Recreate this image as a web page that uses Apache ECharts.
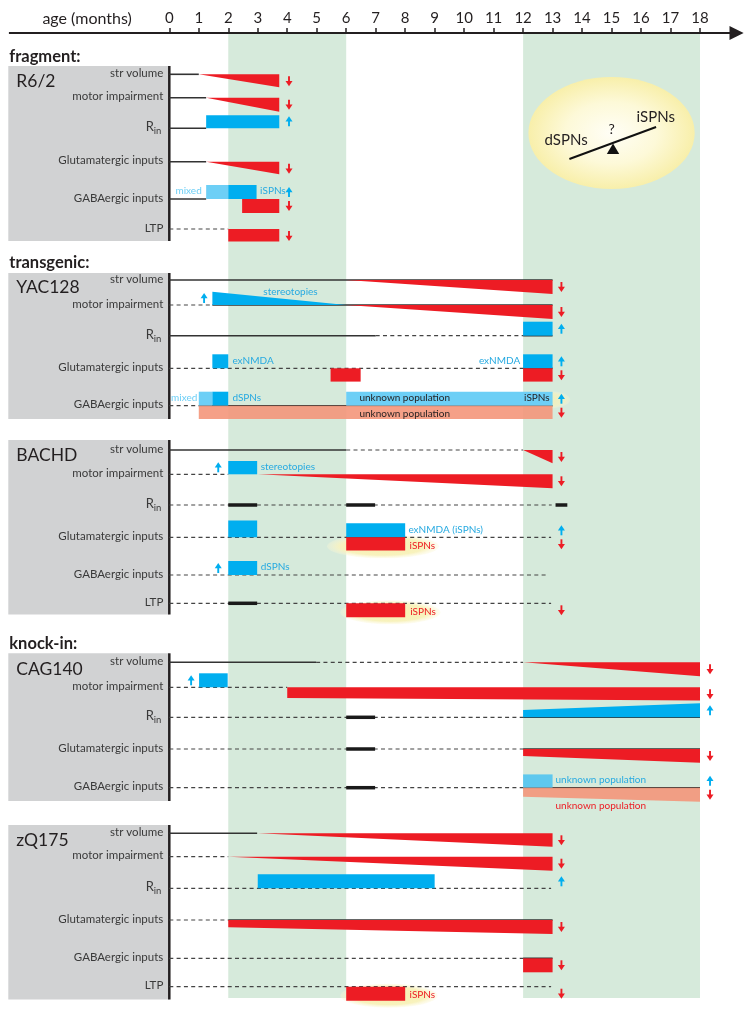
<!DOCTYPE html>
<html><head><meta charset="utf-8">
<script src="https://cdn.jsdelivr.net/npm/echarts@6/dist/echarts.min.js"></script>
<style>html,body{margin:0;padding:0;background:#fff}#c{width:753px;height:1018px}</style>
</head><body><div id="c"></div>
<script>
// ---------------- DATA ----------------
const MONTH_TICKS = ['0','1','2','3','4','5','6','7','8','9','10','11','12','13','14','15','16','17','18'];
const AXIS_TITLE = 'age (months)';
const HEALTHY_WINDOWS = [[2, 6], [12, 18]];
const MODEL_NAMES = ['R6/2', 'YAC128', 'BACHD', 'CAG140', 'zQ175'];
const MODEL_GROUPS = ['fragment:', 'transgenic:', null, 'knock-in:', null];
const ROW_TEXT = {str:'str volume', motor:'motor impairment', rin:'R_in', glut:'Glutamatergic inputs', gaba:'GABAergic inputs', ltp:'LTP'};
const MODEL_ROWS = [
  ['str','motor','rin','glut','gaba','ltp'],
  ['str','motor','rin','glut','gaba'],
  ['str','motor','rin','glut','gaba','ltp'],
  ['str','motor','rin','glut','gaba'],
  ['str','motor','rin','glut','gaba','ltp']
];
// [model, row, style, fromMonth, toMonth]
const BASELINES = [
  ['R6/2','str','solid',0,1.0],['R6/2','motor','solid',0,1.25],['R6/2','rin','solid',0,1.25],
  ['R6/2','glut','solid',0,1.25],['R6/2','gaba','solid',0,1.25],['R6/2','ltp','dash',0,2],
  ['YAC128','str','solid',0,13],['YAC128','motor','dash',0,1.46],['YAC128','motor','solid',1.46,13],
  ['YAC128','rin','solid',0,7],['YAC128','rin','dash',7,12],['YAC128','rin','solid',12,13],
  ['YAC128','glut','dash',0,12],['YAC128','glut','solid',12,13],
  ['YAC128','gaba','dash',0,1],['YAC128','gaba','solid',1,13],
  ['BACHD','str','solid',0,6],['BACHD','str','dash',6,12],['BACHD','motor','dash',0,2],
  ['BACHD','rin','dash',0,12.97],['BACHD','rin','thick',2,2.98],['BACHD','rin','thick',6,6.98],['BACHD','rin','thick',13.1,13.5],
  ['BACHD','glut','dash',0,12.95],['BACHD','glut','solid',6,8],['BACHD','gaba','dash',0,12.85],
  ['BACHD','ltp','dash',0,12.95],['BACHD','ltp','thick',2,2.98],
  ['CAG140','str','solid',0,4.98],['CAG140','str','dash',4.98,12],['CAG140','motor','dash',0,4],
  ['CAG140','rin','dash',0,12],['CAG140','rin','thick',6,6.98],['CAG140','rin','solid',12,18],
  ['CAG140','glut','dash',0,12],['CAG140','glut','thick',6,6.98],['CAG140','glut','solid',12,18],
  ['CAG140','gaba','dash',0,12],['CAG140','gaba','thick',6,6.98],['CAG140','gaba','solid',12,18],
  ['zQ175','str','solid',0,2.98],['zQ175','motor','dash',0,2],['zQ175','rin','dash',0,12.95],
  ['zQ175','glut','dash',0,2],['zQ175','glut','solid',2,13],['zQ175','gaba','dash',0,12],['zQ175','gaba','solid',12,13],
  ['zQ175','ltp','dash',0,12.95]
];
// [model, row, side(up=increase above line / down=decrease below), colour, fromMonth, toMonth, magFrom, magTo]
const CHANGES = [
  ['R6/2','str','down','red',1.0,3.73,0,0.93],['R6/2','motor','down','red',1.25,3.73,0,1],
  ['R6/2','rin','up','blue',1.25,3.73,0.93,0.93],['R6/2','glut','down','red',1.25,3.73,0,0.9],
  ['R6/2','gaba','up','light',1.25,2.0,1,1],['R6/2','gaba','up','blue',2.0,2.96,1,1],
  ['R6/2','gaba','down','red',2.47,3.73,1,1],['R6/2','ltp','down','red',2.0,3.73,0.9,0.9],
  ['YAC128','str','down','red',6,13,0,1],['YAC128','motor','up','blue',1.46,6,0.95,0],
  ['YAC128','motor','down','red',6,13,0,1],['YAC128','rin','up','blue',12,13,1,1],
  ['YAC128','glut','up','blue',1.46,2,1,1],['YAC128','glut','down','red',5.47,6.49,0.95,0.95],
  ['YAC128','glut','up','blue',12,13,1,1],['YAC128','glut','down','red',12,13,0.95,0.95],
  ['YAC128','gaba','up','light',1,1.46,1,1],['YAC128','gaba','up','blue',1.46,2,1,1],
  ['YAC128','gaba','up','light',6,13,1,1],['YAC128','gaba','down','salmon',1,13,0.95,0.95],
  ['BACHD','str','down','red',12,13,0,0.95],['BACHD','motor','up','blue',2,2.98,0.95,0.95],
  ['BACHD','motor','down','red',3,13,0,1],['BACHD','glut','up','blue',2,2.98,1.2,1.2],
  ['BACHD','glut','up','blue',6,8,1,1],['BACHD','glut','down','red',6,8,0.95,0.95],
  ['BACHD','gaba','up','blue',2,2.98,1,1],['BACHD','ltp','down','red',6,8,1,1],
  ['CAG140','str','down','red',12,18,0,1],['CAG140','motor','up','blue',1.01,1.98,1,1],
  ['CAG140','motor','down','red',4,18,0.76,0.95],['CAG140','rin','up','blue',12,18,0.52,1],
  ['CAG140','glut','down','red',12,18,0.5,0.98],['CAG140','gaba','up','light2',12,13,0.95,0.95],
  ['CAG140','gaba','down','salmon',12,18,0.64,1],
  ['zQ175','str','down','red',3,13,0,0.96],['zQ175','motor','down','red',2,13,0,1],
  ['zQ175','rin','up','blue',3,9,1,1],['zQ175','glut','down','red',2,13,0.52,1],
  ['zQ175','gaba','down','red',12,13,1,1],['zQ175','ltp','down','red',6,8,1,1]
];
// [model, row, direction, month]
const ARROWS = [
  ['R6/2','str','down',4.06],['R6/2','motor','down',4.06],['R6/2','rin','up',4.06],['R6/2','glut','down',4.06],
  ['R6/2','gaba','up',4.06],['R6/2','gaba','down',4.06],['R6/2','ltp','down',4.06],
  ['YAC128','str','down',13.3],['YAC128','motor','up',1.18],['YAC128','motor','down',13.3],['YAC128','rin','up',13.3],
  ['YAC128','glut','up',13.3],['YAC128','glut','down',13.3],['YAC128','gaba','up',13.3],['YAC128','gaba','down',13.3],
  ['BACHD','str','down',13.3],['BACHD','motor','up',1.66],['BACHD','motor','down',13.3],['BACHD','glut','up',13.3],
  ['BACHD','glut','down',13.3],['BACHD','gaba','up',1.66],['BACHD','ltp','down',13.3],
  ['CAG140','str','down',18.34],['CAG140','motor','up',0.74],['CAG140','motor','down',18.34],['CAG140','rin','up',18.34],
  ['CAG140','glut','down',18.34],['CAG140','gaba','up',18.34],['CAG140','gaba','down',18.34],
  ['zQ175','str','down',13.3],['zQ175','motor','down',13.3],['zQ175','rin','up',13.3],['zQ175','glut','down',13.3],
  ['zQ175','gaba','down',13.3],['zQ175','ltp','down',13.3]
];
// [model, row, text, month, place, anchor, colour]
const NOTES = [
  ['R6/2','gaba','mixed',1.1,'above','right','light'],['R6/2','gaba','iSPNs',3.08,'above','left','blueText'],
  ['YAC128','motor','stereotopies',3.19,'high','left','blueText'],
  ['YAC128','glut','exNMDA',2.14,'above','left','blueText'],['YAC128','glut','exNMDA',11.9,'above','right','blueText'],
  ['YAC128','gaba','mixed',0.95,'above','right','light'],['YAC128','gaba','dSPNs',2.14,'above','left','blueText'],
  ['YAC128','gaba','unknown population',6.45,'above','left','dark'],['YAC128','gaba','iSPNs',12.9,'above','right','dark'],
  ['YAC128','gaba','unknown population',6.45,'below','left','dark'],
  ['BACHD','motor','stereotopies',3.1,'above','left','blueText'],
  ['BACHD','glut','exNMDA (iSPNs)',8.11,'above','left','blueText'],['BACHD','glut','iSPNs',8.15,'below','left','redText'],
  ['BACHD','gaba','dSPNs',3.1,'above','left','blueText'],['BACHD','ltp','iSPNs',8.17,'below','left','redText'],
  ['CAG140','gaba','unknown population',13.1,'above','left','blueText'],
  ['CAG140','gaba','unknown population',13.1,'farBelow','left','redText'],
  ['zQ175','ltp','iSPNs',8.15,'below','left','redText']
];
// [model, row, fromMonth, toMonth, place]
const HIGHLIGHTS = [
  ['YAC128','gaba',12.0,13.6,'above'],
  ['BACHD','glut',5.35,9.15,'below'],['BACHD','ltp',5.8,9.2,'below'],['zQ175','ltp',5.8,9.1,'below']
];
const BALANCE_LABELS = ['dSPNs', '?', 'iSPNs'];

// ---------------- LAYOUT / STYLE ----------------
const C = {red:'#ed1c24', blue:'#00aeef', light:'#6dcff6', light2:'#5ec8ee', salmon:'#f4967a',
  dark:'#231f20', text:'#3a3a3a', green:'#d6eadb', gray:'#d1d2d3', blueText:'#27aae1', redText:'#ed1c24', line:'#333'};
const FONT = 'Lato, "Open Sans", sans-serif';
const L = {
  axis: {y:33, start:-5.44, headBase:19.0, tip:19.48, headHalf:7},
  bandTop:34, bandBottom:998, magPx:14, arrowOff:7,
  noteOff: {above:-8, below:8, high:-13, farBelow:18},
  hl: {above:{dy:-6, ry:9, op:0.7}, below:{dy:9, ry:12, op:1}},
  panelLeftPx:161, labelGapPx:6, headingLeftPx:160, nameLeftPx:153,
  panels: {
    'R6/2': {top:66, bottom:241, headingY:57, nameY:81, rows:{str:74.3, motor:97.7, rin:128.3, glut:161.7, gaba:199, ltp:229}},
    'YAC128': {top:273, bottom:419, headingY:262.5, nameY:287, rows:{str:280, motor:305, rin:335.7, glut:368.3, gaba:405.7}},
    'BACHD': {top:440, bottom:614.5, nameY:455, rows:{str:450, motor:474.3, rin:505, glut:537.3, gaba:575, ltp:603.3}},
    'CAG140': {top:653.3, bottom:801, headingY:643.3, nameY:669, rows:{str:662.3, motor:687.3, rin:717.3, glut:749, gaba:787.7}},
    'zQ175': {top:825, bottom:999.5, nameY:840, rows:{str:833.3, motor:856.7, rin:888.3, glut:920, gaba:958.3, ltp:986.7}}
  },
  balance: {x0:12.18, x1:17.82, y0:77, y1:189, beam:[[13.57,159],[16.51,127]], fulcrum:[15.05,143.5,154,0.21],
            labels:[[13.46,140],[15.0,129],[16.5,117]]}
};
const rowY = (m, r) => L.panels[m].rows[r];

// ---------------- MARK LISTS ----------------
const bgMarks = [], hlMarks = [], lineMarks = [], shapeMarks = [], topMarks = [];
HEALTHY_WINDOWS.forEach(w => bgMarks.push({k:'band', x0:w[0], x1:w[1]}));
bgMarks.push({k:'axis'}, {k:'title'});
MODEL_NAMES.forEach((m, i) => {
  const P = L.panels[m];
  bgMarks.push({k:'panel', y0:P.top, y1:P.bottom});
  if (MODEL_GROUPS[i]) topMarks.push({k:'heading', text:MODEL_GROUPS[i], y:P.headingY});
  topMarks.push({k:'name', text:m, y:P.nameY});
  MODEL_ROWS[i].forEach(r => topMarks.push({k:'label', text:ROW_TEXT[r], y:rowY(m, r)}));
});
bgMarks.push({k:'bigEllipse'});
HIGHLIGHTS.forEach(h => hlMarks.push({k:'hl', x0:h[2], x1:h[3], y:rowY(h[0], h[1]), place:h[4]}));
BASELINES.forEach(b => lineMarks.push({k:'line', style:b[2], x0:b[3], x1:b[4], y:rowY(b[0], b[1])}));
CHANGES.forEach(c => shapeMarks.push({k:'shape', side:c[2], color:c[3], x0:c[4], x1:c[5], m0:c[6], m1:c[7], y:rowY(c[0], c[1])}));
NOTES.forEach(n => topMarks.push({k:'note', text:n[2], x:n[3], place:n[4], anchor:n[5], color:n[6], y:rowY(n[0], n[1])}));
ARROWS.forEach(a => topMarks.push({k:'arrow', dir:a[2], x:a[3], y:rowY(a[0], a[1])}));
topMarks.push({k:'balance'});

function txt(x, y, text, o) {
  return {type:'text', x:x, y:y, style:Object.assign({text:text, fill:C.text, fontSize:12, fontFamily:FONT,
    align:'left', verticalAlign:'middle', textAlign:'left', textVerticalAlign:'middle'}, o || {})};
}
function alignOpt(a) { return {align:a, textAlign:a}; }

function draw(m, api) {
  const X = v => api.coord([v, 500])[0];
  const Y = v => api.coord([0, v])[1];
  const x0 = X(0);
  switch (m.k) {
    case 'band':
      return {type:'rect', shape:{x:X(m.x0), y:Y(L.bandTop), width:X(m.x1)-X(m.x0), height:Y(L.bandBottom)-Y(L.bandTop)}, style:{fill:C.green}};
    case 'axis': {
      const y = Y(L.axis.y);
      return {type:'group', children:[
        {type:'line', shape:{x1:X(L.axis.start), y1:y, x2:X(L.axis.headBase)+1, y2:y}, style:{stroke:C.dark, lineWidth:2}},
        {type:'polygon', shape:{points:[[X(L.axis.headBase), y-L.axis.headHalf],[X(L.axis.tip), y],[X(L.axis.headBase), y+L.axis.headHalf]]}, style:{fill:C.dark}}
      ]};
    }
    case 'title':
      return txt(x0 - 37.5, Y(L.axis.y) - 14.5, AXIS_TITLE, Object.assign({fontSize:16, fill:C.dark}, alignOpt('right')));
    case 'panel':
      return {type:'group', children:[
        {type:'rect', shape:{x:x0 - L.panelLeftPx, y:Y(m.y0), width:L.panelLeftPx, height:Y(m.y1)-Y(m.y0)}, style:{fill:C.gray}},
        {type:'line', shape:{x1:x0, y1:Y(m.y0), x2:x0, y2:Y(m.y1)}, style:{stroke:C.dark, lineWidth:2.5}}
      ]};
    case 'heading':
      return txt(x0 - L.headingLeftPx, Y(m.y), m.text, {fontSize:16.5, fontWeight:'bold', fill:C.dark});
    case 'name':
      return txt(x0 - L.nameLeftPx, Y(m.y), m.text, {fontSize:17.5, fill:C.dark});
    case 'label': {
      const y = Y(m.y) - 1;
      if (m.text === 'R_in') {
        return {type:'group', children:[
          txt(x0 - 15.5, y, 'R', Object.assign({fontSize:13}, alignOpt('right'))),
          txt(x0 - 15.5, y + 4, 'in', {fontSize:9.5})
        ]};
      }
      return txt(x0 - L.labelGapPx, y, m.text, Object.assign({fontSize:11.5}, alignOpt('right')));
    }
    case 'line': {
      const y = Y(m.y);
      const st = m.style === 'dash' ? {stroke:'#444', lineWidth:1.2, lineDash:[4, 3.3]}
               : m.style === 'thick' ? {stroke:'#1a1a1a', lineWidth:3.5}
               : {stroke:C.line, lineWidth:1.6};
      return {type:'line', shape:{x1:X(m.x0), y1:y, x2:X(m.x1), y2:y}, style:st};
    }
    case 'shape': {
      const y = Y(m.y), s = m.side === 'up' ? -1 : 1, H = L.magPx;
      const a = X(m.x0), b = X(m.x1);
      return {type:'polygon', shape:{points:[[a, y], [b, y], [b, y + s*m.m1*H], [a, y + s*m.m0*H]]},
        style:{fill:C[m.color], opacity: m.color === 'salmon' ? 0.9 : 1}};
    }
    case 'note': {
      const y = Y(m.y) + L.noteOff[m.place];
      return txt(X(m.x), y, m.text, Object.assign({fontSize:10, fill:C[m.color]}, alignOpt(m.anchor)));
    }
    case 'arrow': {
      const up = m.dir === 'up', s = up ? -1 : 1, c = up ? C.blue : C.red;
      const x = X(m.x), y = Y(m.y) + s*L.arrowOff;
      return {type:'group', children:[
        {type:'line', shape:{x1:x, y1:y - s*5, x2:x, y2:y + s*0.5}, style:{stroke:c, lineWidth:1.9}},
        {type:'polygon', shape:{points:[[x-3.5, y-s*0.3], [x+3.5, y-s*0.3], [x, y + s*5]]}, style:{fill:c}}
      ]};
    }
    case 'hl': {
      const H = L.hl[m.place];
      const a = X(m.x0), b = X(m.x1), cy = Y(m.y) + H.dy;
      return {type:'circle', x:(a+b)/2, y:cy, scaleX:(b-a)/2, scaleY:H.ry, shape:{cx:0, cy:0, r:1},
        style:{opacity:H.op, fill:{type:'radial', x:0.5, y:0.5, r:0.5, colorStops:[
          {offset:0, color:'#f7f0b0'}, {offset:0.75, color:'#f8f2bd'}, {offset:1, color:'rgba(251,247,214,0.3)'}]}}};
    }
    case 'bigEllipse': {
      const B = L.balance, a = X(B.x0), b = X(B.x1), c = Y(B.y0), d = Y(B.y1);
      return {type:'circle', x:(a+b)/2, y:(c+d)/2, scaleX:(b-a)/2, scaleY:(d-c)/2, shape:{cx:0, cy:0, r:1},
        style:{fill:{type:'radial', x:0.5, y:0.5, r:0.5, colorStops:[
          {offset:0, color:'#fffef6'}, {offset:0.55, color:'#fdf9d8'}, {offset:1, color:'#f8efaa'}]}}};
    }
    case 'balance': {
      const B = L.balance, f = B.fulcrum;
      return {type:'group', children:[
        {type:'line', shape:{x1:X(B.beam[0][0]), y1:Y(B.beam[0][1]), x2:X(B.beam[1][0]), y2:Y(B.beam[1][1])}, style:{stroke:'#111', lineWidth:2}},
        {type:'polygon', shape:{points:[[X(f[0]), Y(f[1])], [X(f[0]+f[3]), Y(f[2])], [X(f[0]-f[3]), Y(f[2])]]}, style:{fill:'#111'}},
        txt(X(B.labels[0][0]), Y(B.labels[0][1]), BALANCE_LABELS[0], Object.assign({fontSize:15, fill:C.dark}, alignOpt('center'))),
        txt(X(B.labels[1][0]), Y(B.labels[1][1]), BALANCE_LABELS[1], Object.assign({fontSize:14, fill:C.dark}, alignOpt('center'))),
        txt(X(B.labels[2][0]), Y(B.labels[2][1]), BALANCE_LABELS[2], Object.assign({fontSize:15, fill:C.dark}, alignOpt('center')))
      ]};
    }
  }
  return null;
}

function layer(marks, z) {
  return {type:'custom', coordinateSystem:'cartesian2d', z:z, clip:false, silent:true, animation:false,
    data: marks.map(() => [0, 500]), renderItem: (params, api) => draw(marks[params.dataIndex], api)};
}

const chart = echarts.init(document.getElementById('c'), null, {renderer:'canvas'});
chart.setOption({
  animation:false,
  grid:{left:169.3, right:53, top:33, bottom:0, containLabel:false, outerBoundsMode:'none'},
  xAxis:{type:'value', min:0, max:18, interval:1, position:'top',
    axisLine:{show:false}, splitLine:{show:false},
    axisTick:{show:true, length:5, lineStyle:{color:C.dark, width:1.5}},
    axisLabel:{show:true, fontSize:15, color:C.dark, fontFamily:FONT, margin:7, formatter: v => MONTH_TICKS[v]}},
  yAxis:{type:'value', min:33, max:1018, inverse:true, show:false},
  series:[layer(bgMarks, 1), layer(hlMarks, 2), layer(lineMarks, 3), layer(shapeMarks, 4), layer(topMarks, 5)]
});
</script></body></html>
